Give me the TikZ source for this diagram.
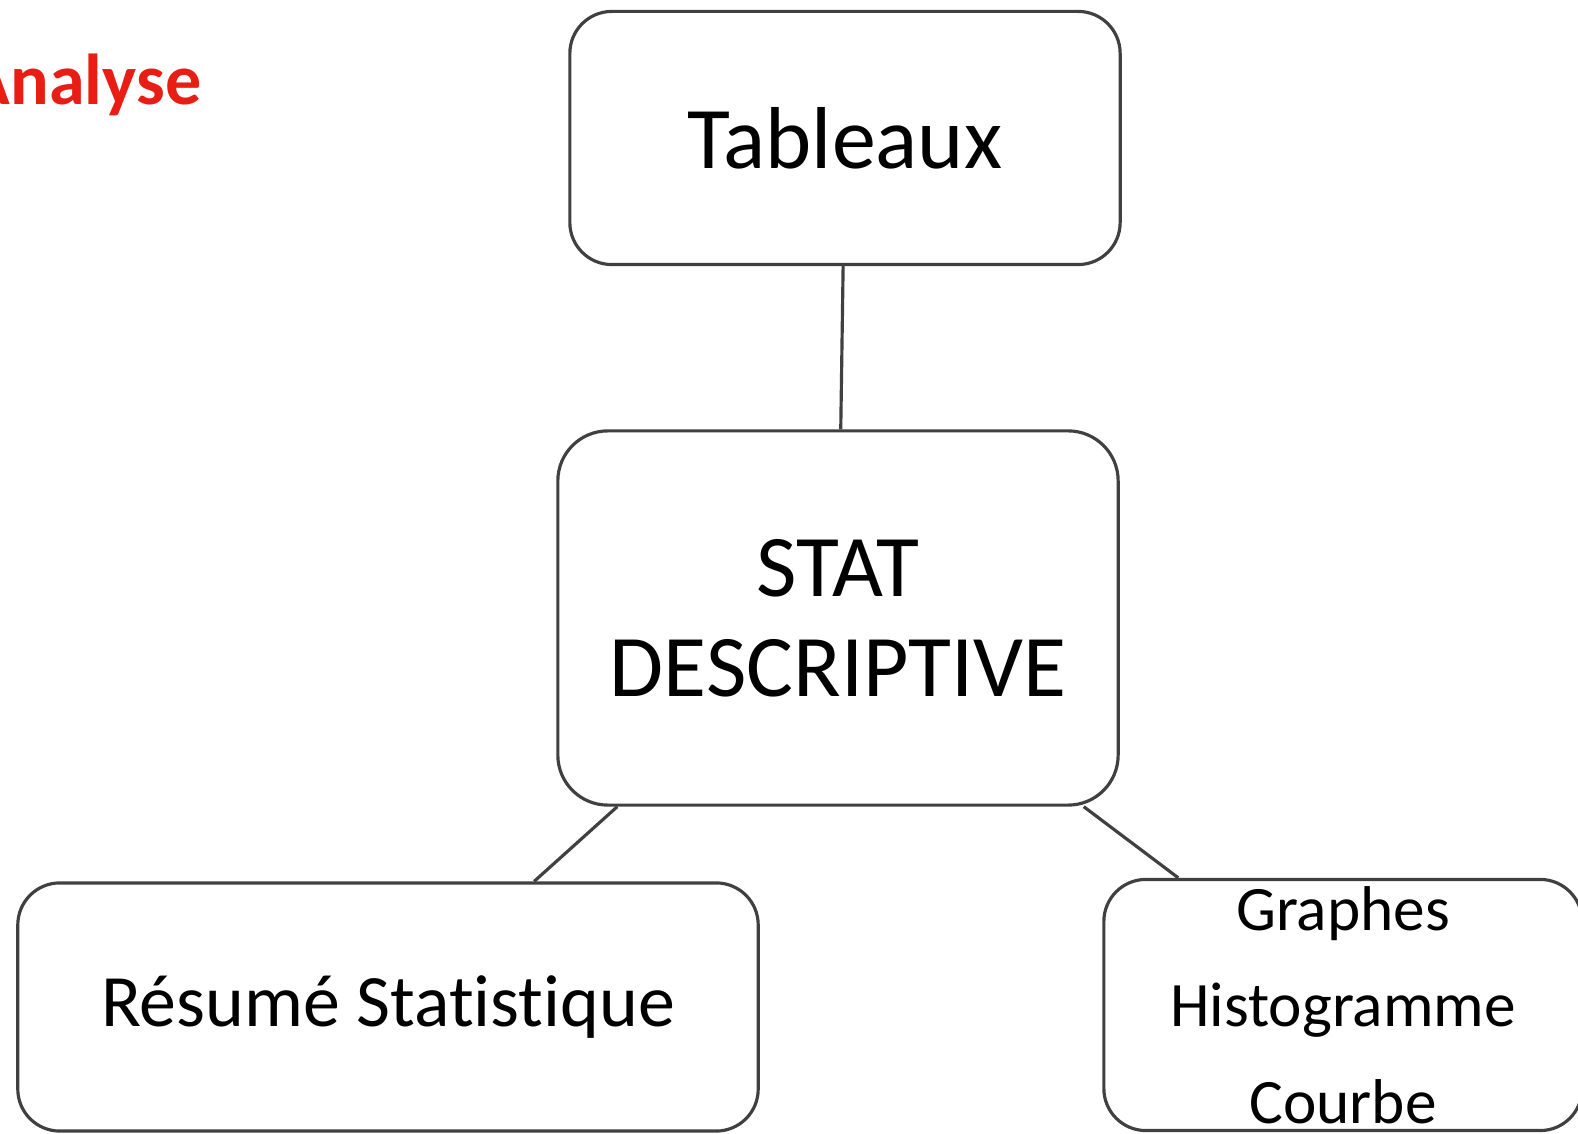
\documentclass[tikz,border=0pt]{standalone}
\usepackage{fontspec}
\setmainfont{Carlito}[Ligatures={NoCommon}]
\usepackage{xcolor}
\usetikzlibrary{positioning, calc}
\definecolor{titred}{RGB}{232,30,20}

\begin{document}
\begin{tikzpicture}[x=0.01cm,y=-0.01cm,
  box/.style={draw=black!75, line width=0.9pt, rounded corners=0.42cm,
    align=center, inner sep=0pt},
  link/.style={draw=black!75, line width=0.9pt}]
  \useasboundingbox (0,0) rectangle (1578,1134);
  \node[anchor=base east, inner sep=0pt, text=titred,
    font=\bfseries\fontsize{20.5}{24}\selectfont] (ana) at (202,105) {Analyse};
  \node[box, minimum width=5.5cm, minimum height=2.53cm,
    font=\fontsize{25}{30}\selectfont] (tab) at (845,138) {Tableaux};
  \node[box, minimum width=5.6cm, minimum height=3.74cm, rounded corners=0.5cm,
    font=\fontsize{25}{28.5}\selectfont] (stat) at (838,618) {STAT\\DESCRIPTIVE};
  \node[box, minimum width=7.4cm, minimum height=2.48cm,
    font=\fontsize{21}{25}\selectfont] (res) at (388,1007) {R\'esum\'e Statistique};
  \node[box, minimum width=4.78cm, minimum height=2.51cm,
    font=\fontsize{18}{27.5}\selectfont] (gra) at (1343,1005) {Graphes\\Histogramme\\Courbe};
  % connectors
  \draw[link] (tab) -- (stat);
  \draw[link] ($(stat.south west)+(61,0)$) -- ($(res.north west)+(518,0)$);
  \draw[link] ($(stat.south east)+(-36,0)$) -- ($(gra.north west)+(76,0)$);
\end{tikzpicture}
\end{document}
